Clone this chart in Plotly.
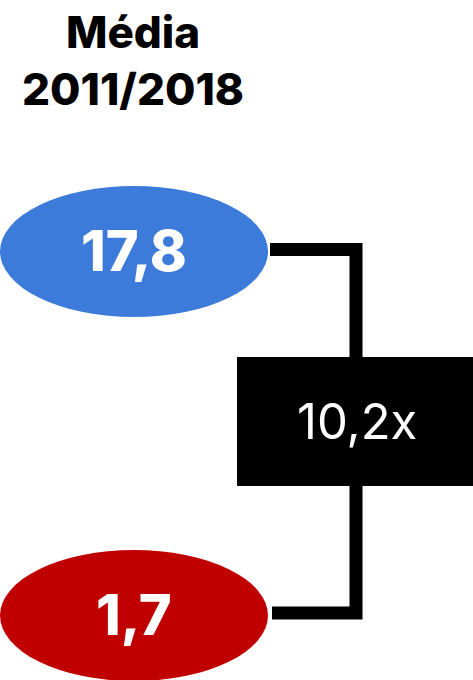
import plotly.graph_objects as go

# Data
labels = ["17,8", "1,7"]
values = [17.8, 1.7]
colors = ["#3C7BD9", "#C00000"]
ratio_label = "10,2x"
title_lines = ["Média", "2011/2018"]

W, H = 473, 680
FONT = "Inter"

fig = go.Figure()

# Hidden trace to set up axes
fig.add_trace(go.Scatter(x=[0, W], y=[0, H], mode="markers",
                         marker=dict(opacity=0), hoverinfo="skip", showlegend=False))

# Ellipse positions (layout)
ellipses = [(0, 268, 186, 317), (0, 268, 550, 681)]
for (x0, x1, y0, y1), c, lab in zip(ellipses, colors, labels):
    fig.add_shape(type="circle", x0=x0, x1=x1, y0=y0, y1=y1,
                  fillcolor=c, line=dict(width=0), layer="below")
    fig.add_annotation(x=(x0 + x1) / 2, y=(y0 + y1) / 2 - 1, text=lab, showarrow=False,
                       font=dict(family=FONT, size=56, color="white", weight=800),
                       xanchor="center", yanchor="middle")

# Bracket connector
fig.add_shape(type="path", path="M 270,249.5 L 356,249.5 L 356,613 L 272,613",
              line=dict(color="black", width=13))

# Ratio box
fig.add_shape(type="rect", x0=237, x1=476, y0=357, y1=486,
              fillcolor="black", line=dict(width=0))
fig.add_annotation(x=357, y=421, text=ratio_label, showarrow=False,
                   font=dict(family=FONT, size=49, color="white", weight=400),
                   xanchor="center", yanchor="middle")

# Title
fig.add_annotation(x=133, y=60, text="<br>".join(title_lines), showarrow=False,
                   font=dict(family=FONT, size=44, color="black", weight=800),
                   xanchor="center", yanchor="middle", align="center")

fig.update_layout(
    width=W, height=H, margin=dict(l=0, r=0, t=0, b=0),
    paper_bgcolor="white", plot_bgcolor="white",
    xaxis=dict(range=[0, W], visible=False, fixedrange=True),
    yaxis=dict(range=[H, 0], visible=False, fixedrange=True),
    showlegend=False,
)

fig.write_html("out.html", config={"displayModeBar": False},
               post_script="document.body.style.margin='0';document.body.style.overflow='hidden';")
